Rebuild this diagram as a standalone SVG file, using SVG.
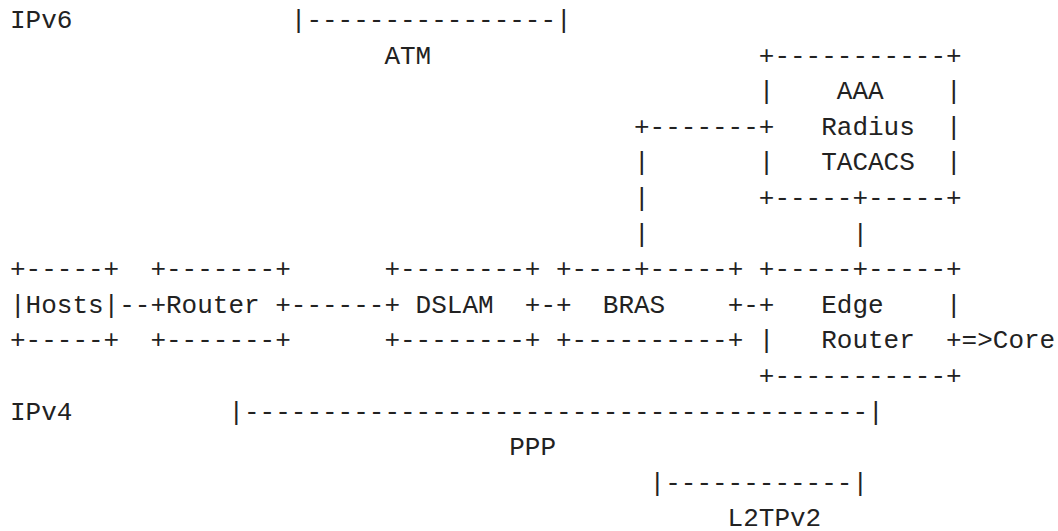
<svg xmlns="http://www.w3.org/2000/svg" width="1058" height="531" viewBox="0 0 1058 531">
<style>
text{font-family:"Liberation Mono","DejaVu Sans Mono",monospace;font-size:26px;fill:#222;white-space:pre}
</style>
<rect width="1058" height="531" fill="#fff"/>
<g id="labels" xml:space="preserve">
<text x="10" y="28">IPv6</text>
<text x="290.8" y="28">|----------------|</text>
<text x="384.4" y="63.6">ATM</text>
<text x="10" y="419.6">IPv4</text>
<text x="228.4" y="419.6">|----------------------------------------|</text>
<text x="509.2" y="455.2">PPP</text>
<text x="649.6" y="490.8">|------------|</text>
<text x="727.6" y="526.4">L2TPv2</text>
</g>
<g id="aaa" xml:space="preserve">
<text x="758.8" y="63.6">+-----------+</text>
<text x="758.8" y="99.2">|    AAA    |</text>
<text x="758.8" y="134.8">+   Radius  |</text>
<text x="758.8" y="170.4">|   TACACS  |</text>
<text x="758.8" y="206">+-----+-----+</text>
</g>
<g id="hosts" xml:space="preserve">
<text x="10" y="277.2">+-----+</text>
<text x="10" y="312.8">|Hosts|</text>
<text x="10" y="348.4">+-----+</text>
</g>
<g id="router" xml:space="preserve">
<text x="150.4" y="277.2">+-------+</text>
<text x="150.4" y="312.8">+Router +</text>
<text x="150.4" y="348.4">+-------+</text>
</g>
<g id="dslam" xml:space="preserve">
<text x="384.4" y="277.2">+--------+</text>
<text x="384.4" y="312.8">+ DSLAM  +</text>
<text x="384.4" y="348.4">+--------+</text>
</g>
<g id="bras" xml:space="preserve">
<text x="556" y="277.2">+----+-----+</text>
<text x="556" y="312.8">+  BRAS    +</text>
<text x="556" y="348.4">+----------+</text>
</g>
<g id="edge-router" xml:space="preserve">
<text x="758.8" y="277.2">+-----+-----+</text>
<text x="758.8" y="312.8">+   Edge    |</text>
<text x="758.8" y="348.4">|   Router  +</text>
<text x="758.8" y="384">+-----------+</text>
</g>
<g id="core" xml:space="preserve">
<text x="992.8" y="348.4">Core</text>
</g>
<g id="connectors" xml:space="preserve">
<text x="634" y="134.8">+-------</text>
<text x="634" y="170.4">|</text>
<text x="634" y="206">|</text>
<text x="634" y="241.6">|</text>
<text x="852.4" y="241.6">|</text>
<text x="119.2" y="312.8">--</text>
<text x="290.8" y="312.8">------</text>
<text x="540.4" y="312.8">-</text>
<text x="743.2" y="312.8">-</text>
<text x="961.6" y="348.4">=&gt;</text>
</g>
</svg>
